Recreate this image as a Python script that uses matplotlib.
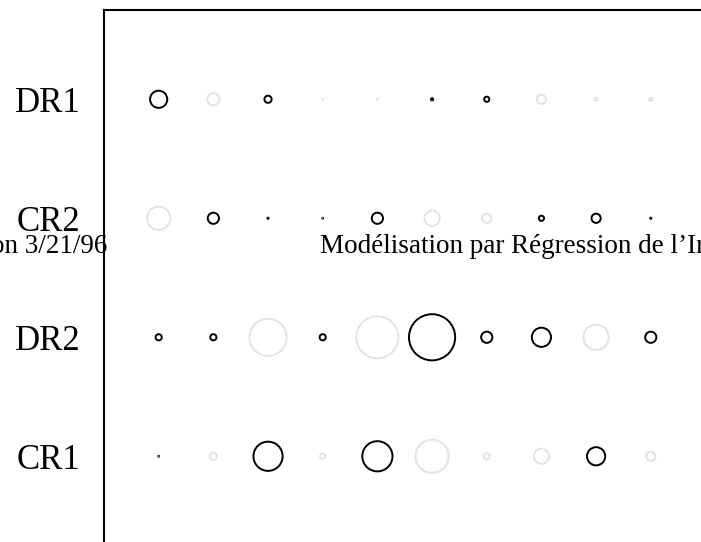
import numpy as np
import matplotlib
matplotlib.use("Agg")
import matplotlib.pyplot as plt

plt.rcParams['font.family'] = ['Liberation Serif', 'DejaVu Serif']

# signed coefficients (black = positive, grey = negative), size ~ magnitude
rows = ['CR1', 'DR2', 'CR2', 'DR1']
dr1 = [19, -14, 9, -3, -3, 4, 7, -11, -5, -5]
cr2 = [-25, 13, 3, 2, 13, -17, -11, 7, 11, 3]
dr2 = [8, 8, -39, 8, -44, 48, 13, 21, -27, 13]
cr1 = [2, -9, 31, -7, 32, -35, -8, -17, 20, -11]
values = [cr1, dr2, cr2, dr1]

fig = plt.figure(figsize=(7.01, 5.42), dpi=100)
# axes runs past the right and bottom edge of the page crop
ax = fig.add_axes([104 / 701, -0.0065, 0.936, 0.988])

for yi, row in enumerate(values, start=1):
    v = np.array(row, dtype=float)
    x = np.arange(1, len(v) + 1)
    pos = v > 0
    neg = ~pos
    diam = np.abs(v) * 0.72 - 1.3
    diam = np.maximum(diam, 0.6)
    ax.scatter(x[pos], np.full(pos.sum(), yi), s=diam[pos] ** 2, facecolors='none',
               edgecolors='black', linewidths=1.4, zorder=3)
    ax.scatter(x[neg], np.full(neg.sum(), yi), s=diam[neg] ** 2, facecolors='none',
               edgecolors='#e3e3e3', linewidths=1.4, zorder=2)

ax.set_xlim(0, 12)
ax.set_ylim(0.25, 4.75)
ax.set_xticks([])
ax.set_yticks(range(1, len(rows) + 1))
ax.set_yticklabels(rows, fontsize=25)
ax.tick_params(axis='y', length=0, pad=17)
for sp in ax.spines.values():
    sp.set_linewidth(1.5)

# page header that bleeds through the crop
fig.text(107 / 701, 1 - 253 / 542, 'on 3/21/96', fontsize=19.5, ha='right', va='baseline')
fig.text(320 / 701, 1 - 253 / 542, 'Modélisation par Régression de l\u2019Information',
         fontsize=19.5, ha='left', va='baseline')

fig.savefig('out.png', dpi=100)
